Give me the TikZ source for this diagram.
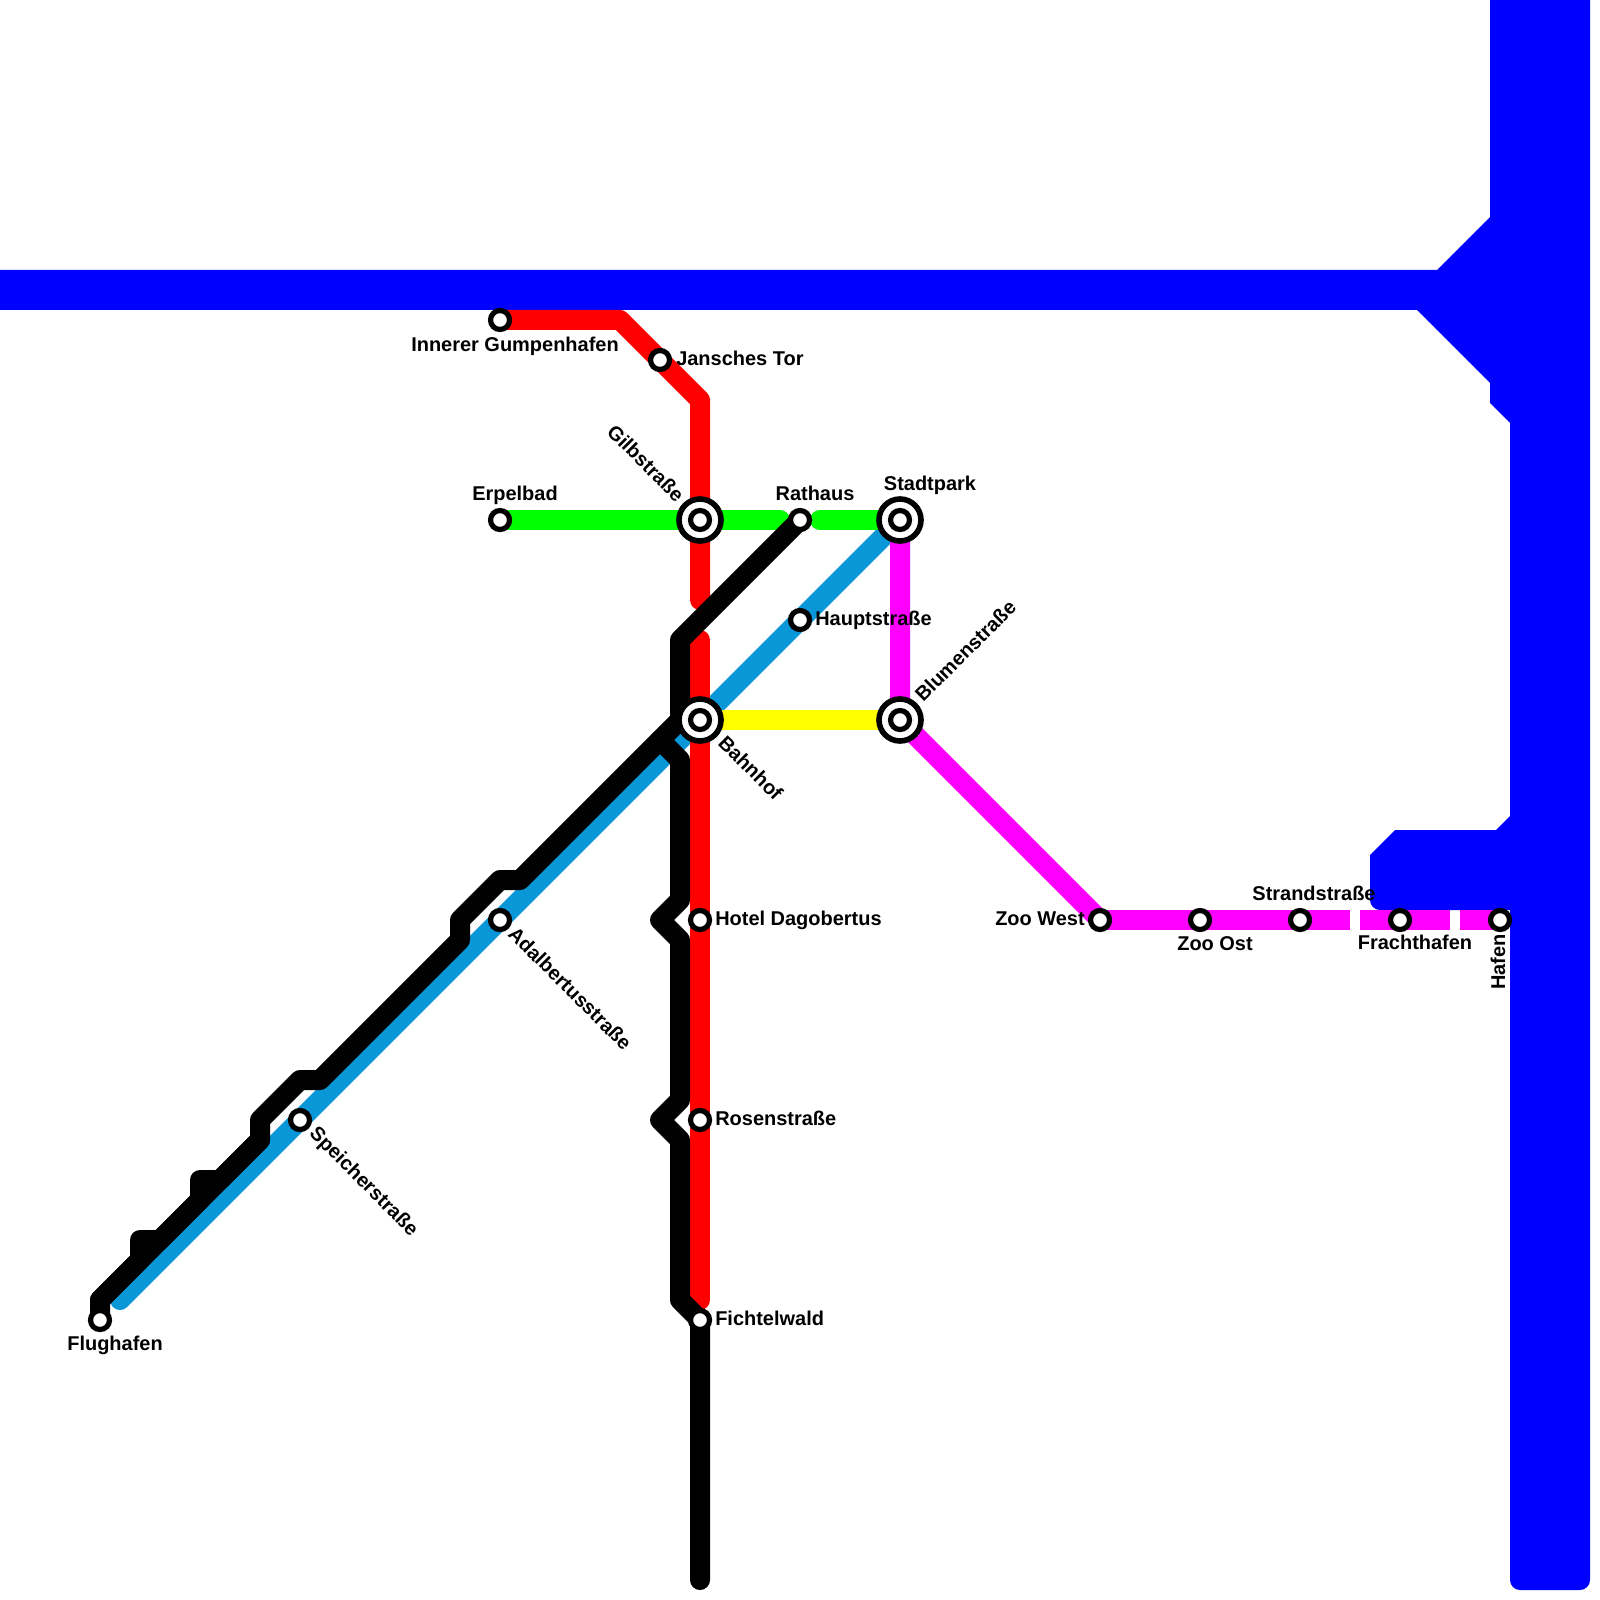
\documentclass[tikz,border=0pt]{standalone}
\usepackage{fontspec}
\setmainfont{Liberation Sans}
\usetikzlibrary{backgrounds}
\definecolor{harbour}{HTML}{0000FF}
\definecolor{skyline}{HTML}{0997D8}
\definecolor{redline}{HTML}{FF0000}
\definecolor{greenline}{HTML}{00FF00}
\definecolor{yellowline}{HTML}{FFFF00}
\definecolor{pinkline}{HTML}{FF00FF}

\begin{document}
\begin{tikzpicture}[x=0.25mm, y=-0.25mm,
    route/.style={line width=5mm, line join=round, line cap=round},
    stop/.style={circle, draw=black, fill=white, line width=1.3mm, inner sep=0pt, minimum size=4.75mm},
    hub/.style={circle, draw=black, fill=white, line width=1.4mm, inner sep=0pt, minimum size=10.5mm},
    lab/.style={font=\fontsize{14.2pt}{16pt}\selectfont\bfseries, inner sep=0pt, text=black}]
  \useasboundingbox (0,0) rectangle (1600,1600);
  % interchanges
  \foreach \nm/\xx/\yy in {gilb/700/520, stadtpark/900/520, bahnhof/700/720, blumen/900/720} {
    \node[hub] (\nm) at (\xx,\yy) {};
    \node[stop] (\nm-in) at (\xx,\yy) {};
  }
  % plain stops
  \foreach \nm/\xx/\yy in {gumpen/500/320, jansches/660/360, erpel/500/520, rathaus/800/520,
      haupt/800/620, dagobert/700/920, rosen/700/1120, fichtel/700/1320, adalbert/500/920,
      speicher/300/1120, flug/100/1320, zoowest/1100/920, zooost/1200/920, strand/1300/920,
      fracht/1400/920, hafen/1500/920}
    \node[stop] (\nm) at (\xx,\yy) {};
  % lines behind the stops
  \begin{scope}[on background layer]
    % the water
    \fill[harbour] (0,270) -- (1437,270) -- (1490,217) -- (1490,0) -- (1590,0)
      [rounded corners=2.5mm] -- (1590,1590) -- (1510,1590) [sharp corners] -- (1510,816)
      -- (1496,830) -- (1395,830) -- (1370,855) [rounded corners=2.5mm] -- (1370,910)
      [sharp corners] -- (1510,910) -- (1510,423) -- (1490,403) -- (1490,383) -- (1417,310)
      -- (0,310) -- cycle;
    \draw[route, skyline] (stadtpark.center) -- (haupt.center) -- (bahnhof.center)
      -- (adalbert.center) -- (speicher.center) -- (120,1300);
    \draw[route, greenline] (erpel.center) -- (780,520);
    \draw[route, greenline] (820,520) -- (stadtpark.center);
    \draw[route, yellowline] (bahnhof.center) -- (blumen.center);
    \draw[route, pinkline] (stadtpark.center) -- (blumen.center) -- (zoowest.center);
    \draw[line width=5mm, pinkline] (zoowest.center) -- (1350,920);
    \draw[line width=5mm, pinkline] (1360,920) -- (1450,920);
    \draw[line width=5mm, pinkline] (1460,920) -- (hafen.center);
    \draw[route, redline] (gumpen.center) -- (620,320) -- (700,400) -- (700,600);
    \draw[route, redline] (700,640) -- (700,1300);
    \draw[route, black] (rathaus.center) -- (680,640) -- (680,720) -- (520,880) -- (500,880)
      -- (460,920) -- (460,940) -- (320,1080) -- (300,1080) -- (260,1120) -- (260,1140)
      -- (100,1300) -- (flug.center);
    % the two bumps on the way out
    \draw[route, black] (260,1140) -- (220,1180) -- (200,1180) -- (200,1200) -- (160,1240)
      -- (140,1240) -- (140,1260) -- (100,1300);
    \draw[route, black] (660,740) -- (680,760) -- (680,900) -- (660,920) -- (680,940)
      -- (680,1100) -- (660,1120) -- (680,1140) -- (680,1300) -- (fichtel.center) -- (700,1580);
  \end{scope}
  % names
  \node[lab] (l-gumpen) at (515,346) {Innerer Gumpenhafen};
  \node[lab, anchor=west] (l-jansches) at (676,358) {Jansches Tor};
  \node[lab, anchor=east, rotate=-45] (l-gilb) at (681,498) {Gilbstraße};
  \node[lab] (l-erpel) at (515,495) {Erpelbad};
  \node[lab] (l-rathaus) at (815,493) {Rathaus};
  \node[lab] (l-stadtpark) at (930,485) {Stadtpark};
  \node[lab, anchor=west] (l-haupt) at (815,620) {Hauptstraße};
  \node[lab, anchor=west, rotate=45] (l-blumen) at (918,698) {Blumenstraße};
  \node[lab, anchor=west, rotate=-45] (l-bahnhof) at (722,739) {Bahnhof};
  \node[lab, anchor=west] (l-dagobert) at (715,920) {Hotel Dagobertus};
  \node[lab, anchor=west] (l-rosen) at (715,1118) {Rosenstraße};
  \node[lab, anchor=west] (l-fichtel) at (715,1318) {Fichtelwald};
  \node[lab, anchor=west, rotate=-45] (l-adalbert) at (512,930) {Adalbertusstraße};
  \node[lab, anchor=west, rotate=-45] (l-speicher) at (312,1131) {Speicherstraße};
  \node[lab] (l-flug) at (115,1345) {Flughafen};
  \node[lab, anchor=east] (l-zoowest) at (1085,919) {Zoo West};
  \node[lab] (l-zooost) at (1215,944) {Zoo Ost};
  \node[lab] (l-strand) at (1314,893) {Strandstraße};
  \node[lab] (l-fracht) at (1415,942) {Frachthafen};
  \node[lab, rotate=90] (l-hafen) at (1498,962) {Hafen};
\end{tikzpicture}
\end{document}
